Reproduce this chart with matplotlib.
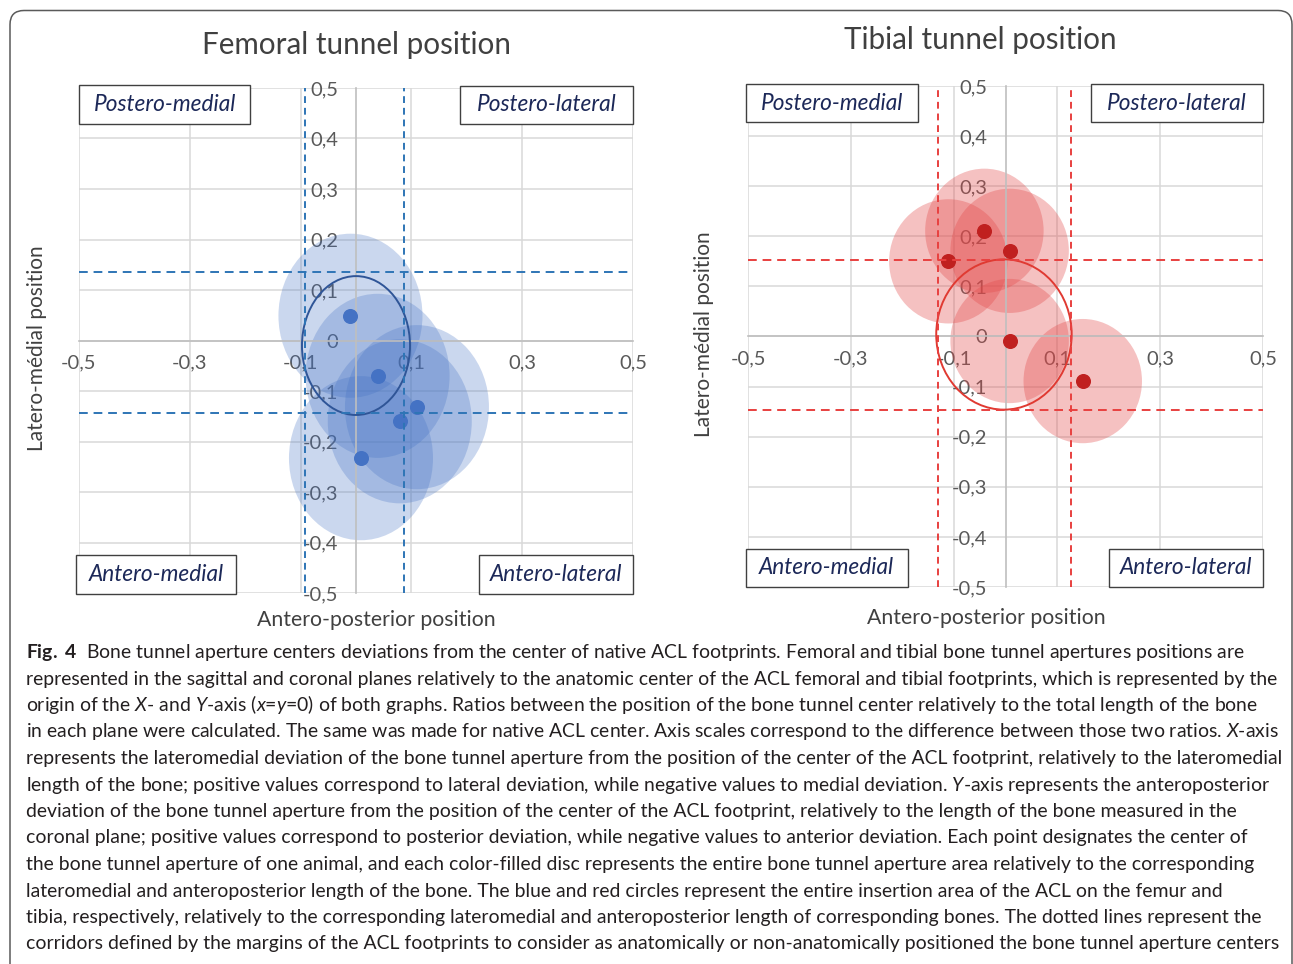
import matplotlib
matplotlib.use("Agg")
import matplotlib.pyplot as plt
from matplotlib.patches import Ellipse, Rectangle, FancyBboxPatch

# ---------------- data ----------------
tick_x = [-0.5, -0.3, -0.1, 0.1, 0.3, 0.5]
tick_y = [-0.5, -0.4, -0.3, -0.2, -0.1, 0.0, 0.1, 0.2, 0.3, 0.4, 0.5]

fem_x = [-0.010, 0.039, 0.110, 0.079, 0.009]
fem_y = [0.049, -0.070, -0.132, -0.160, -0.233]
fem_disc_w, fem_disc_h = 0.26, 0.325
fem_acl_center = (0.0, -0.01)
fem_acl_w, fem_acl_h = 0.195, 0.275
fem_corr_x = [-0.092, 0.087]
fem_corr_y = [0.135, -0.143]

tib_x = [-0.041, 0.008, -0.111, 0.008, 0.150]
tib_y = [0.211, 0.171, 0.150, -0.009, -0.089]
tib_disc_w, tib_disc_h = 0.23, 0.248
tib_acl_center = (-0.003, 0.004)
tib_acl_w, tib_acl_h = 0.263, 0.30
tib_corr_x = [-0.131, 0.127]
tib_corr_y = [0.153, -0.147]

titles = ["Femoral tunnel position", "Tibial tunnel position"]
xlabel = "Antero-posterior position"
ylabel = "Latero-médial position"
quadrants = ["Postero-medial", "Postero-lateral", "Antero-medial", "Antero-lateral"]

caption_lines = [
    r"$\mathbf{Fig.\ 4}$  Bone tunnel aperture centers deviations from the center of native ACL footprints. Femoral and tibial bone tunnel apertures positions are",
    "represented in the sagittal and coronal planes relatively to the anatomic center of the ACL femoral and tibial footprints, which is represented by the",
    r"origin of the $\mathit{X}$- and $\mathit{Y}$-axis ($\mathit{x}$=$\mathit{y}$=0) of both graphs. Ratios between the position of the bone tunnel center relatively to the total length of the bone",
    r"in each plane were calculated. The same was made for native ACL center. Axis scales correspond to the difference between those two ratios. $\mathit{X}$-axis",
    "represents the lateromedial deviation of the bone tunnel aperture from the position of the center of the ACL footprint, relatively to the lateromedial",
    r"length of the bone; positive values correspond to lateral deviation, while negative values to medial deviation. $\mathit{Y}$-axis represents the anteroposterior",
    "deviation of the bone tunnel aperture from the position of the center of the ACL footprint, relatively to the length of the bone measured in the",
    "coronal plane; positive values correspond to posterior deviation, while negative values to anterior deviation. Each point designates the center of",
    "the bone tunnel aperture of one animal, and each color-filled disc represents the entire bone tunnel aperture area relatively to the corresponding",
    "lateromedial and anteroposterior length of the bone. The blue and red circles represent the entire insertion area of the ACL on the femur and",
    "tibia, respectively, relatively to the corresponding lateromedial and anteroposterior length of corresponding bones. The dotted lines represent the",
    "corridors defined by the margins of the ACL footprints to consider as anatomically or non-anatomically positioned the bone tunnel aperture centers",
]

# ---------------- style ----------------
plt.rcParams['font.family'] = ['Lato', 'DejaVu Sans']
plt.rcParams['mathtext.fontset'] = 'custom'
plt.rcParams['mathtext.rm'] = 'Lato'
plt.rcParams['mathtext.it'] = 'Lato:italic'
plt.rcParams['mathtext.bf'] = 'Lato:bold'

W, H = 1293, 964
fig = plt.figure(figsize=(W / 100, H / 100), dpi=100, facecolor='white')

# outer rounded border
fig.patches.append(FancyBboxPatch((10 / 100, -20 / 100), (1292 - 10) / 100, (H - 10.5 + 20) / 100,
                                  boxstyle="round,pad=0,rounding_size=0.14",
                                  transform=fig.dpi_scale_trans, facecolor='none',
                                  edgecolor='#5a5a5a', lw=1.1, zorder=0))


def px_axes(x0, y0, x1, y1):
    return fig.add_axes([x0 / W, 1 - y1 / H, (x1 - x0) / W, (y1 - y0) / H])


def fmt(v):
    return "0" if abs(v) < 1e-9 else f"{v:.1f}".replace(".", ",")


def setup(ax):
    ax.set_xlim(-0.5, 0.5)
    ax.set_ylim(-0.5, 0.5)
    ax.set_facecolor('none')
    for s in ['top', 'right']:
        ax.spines[s].set_visible(False)
    for s in ['left', 'bottom']:
        ax.spines[s].set_position(('data', 0))
        ax.spines[s].set_color('#BFBFBF')
        ax.spines[s].set_linewidth(1.2)
    ax.set_xticks(tick_x)
    ax.set_xticklabels([fmt(v) for v in tick_x])
    ax.set_yticks(tick_y)
    ax.set_yticklabels([fmt(v) for v in tick_y])
    ax.tick_params(axis='x', length=0, colors='#595959', labelsize=14.5, pad=10)
    ax.tick_params(axis='y', length=0, colors='#595959', labelsize=14.5, pad=13)
    ax.grid(True, color='#D9D9D9', lw=1.1)
    ax.set_axisbelow(True)


def boxes(ax, specs):
    for label, (x0, x1, y0, y1) in zip(quadrants, specs):
        ax.add_patch(Rectangle((x0, y0), x1 - x0, y1 - y0, transform=ax.transAxes,
                               facecolor='white', edgecolor='#404040', lw=1.0,
                               clip_on=False, zorder=8))
        ax.text((x0 + x1) / 2, (y0 + y1) / 2, label, transform=ax.transAxes,
                ha='center', va='center', style='italic', fontsize=16.3,
                color='#1C2858', zorder=9, clip_on=False)


def panel(ax, xs, ys, dw, dh, disc_col, disc_alpha, pt_col, acl_c, acl_w, acl_h, acl_col,
          corr_x, corr_y, dash_col):
    setup(ax)
    for x, y in zip(xs, ys):
        ax.add_patch(Ellipse((x, y), dw, dh, facecolor=disc_col, alpha=disc_alpha,
                             edgecolor='none', zorder=2))
    ax.plot(xs, ys, 'o', color=pt_col, markersize=9.8, zorder=4, ls='none')
    ax.add_patch(Ellipse(acl_c, acl_w, acl_h, facecolor='none', edgecolor=acl_col,
                         lw=1.4, zorder=3))
    for v in corr_x:
        ax.axvline(v, color=dash_col, lw=1.4, ls=(0, (3.5, 2.5)), zorder=5)
    for v in corr_y:
        ax.axhline(v, color=dash_col, lw=1.4, ls=(0, (4.5, 3.0)), zorder=5)


axL = px_axes(79, 88, 633, 593)
panel(axL, fem_x, fem_y, fem_disc_w, fem_disc_h, '#4472C4', 0.28, '#4472C4',
      fem_acl_center, fem_acl_w, fem_acl_h, '#2F5597', fem_corr_x, fem_corr_y, '#2E75B6')
boxes(axL, [(0.0, 0.309, 0.929, 1.006), (0.688, 1.0, 0.929, 1.004),
            (-0.005, 0.283, -0.002, 0.075), (0.722, 1.0, -0.002, 0.075)])

axR = px_axes(748, 86, 1263, 587)
panel(axR, tib_x, tib_y, tib_disc_w, tib_disc_h, '#E34A4A', 0.34, '#C0201F',
      tib_acl_center, tib_acl_w, tib_acl_h, '#E03A32', tib_corr_x, tib_corr_y, '#E8403F')
boxes(axR, [(-0.004, 0.331, 0.928, 1.004), (0.666, 1.0, 0.928, 1.004),
            (-0.004, 0.31, 0.0, 0.076), (0.701, 1.0, 0.0, 0.076)])

# titles and axis labels
tcol = '#404040'
fig.text(357 / W, 1 - 45 / H, titles[0], ha='center', va='center', fontsize=21.3, color=tcol)
fig.text(980 / W, 1 - 40 / H, titles[1], ha='center', va='center', fontsize=21.3, color=tcol)
fig.text(376 / W, 1 - 620 / H, xlabel, ha='center', va='center', fontsize=15.3, color=tcol)
fig.text(986 / W, 1 - 618 / H, xlabel, ha='center', va='center', fontsize=15.3, color=tcol)
fig.text(37 / W, 1 - 348 / H, ylabel, ha='center', va='center', rotation=90, fontsize=15, color=tcol)
fig.text(704 / W, 1 - 334 / H, ylabel, ha='center', va='center', rotation=90, fontsize=15, color=tcol)

# caption
cap_texts = []
for i, line in enumerate(caption_lines):
    t = fig.text(26 / W, 1 - (658 + 26.5 * i) / H, line, ha='left', va='baseline',
                 fontsize=13, color='#231F20')
    cap_texts.append(t)

fig.canvas.draw()
r = fig.canvas.get_renderer()
wline = cap_texts[0].get_window_extent(r).width
scale = (1240 - 26) / wline
for t in cap_texts:
    t.set_fontsize(13 * scale)

fig.savefig("out.png", dpi=100)
